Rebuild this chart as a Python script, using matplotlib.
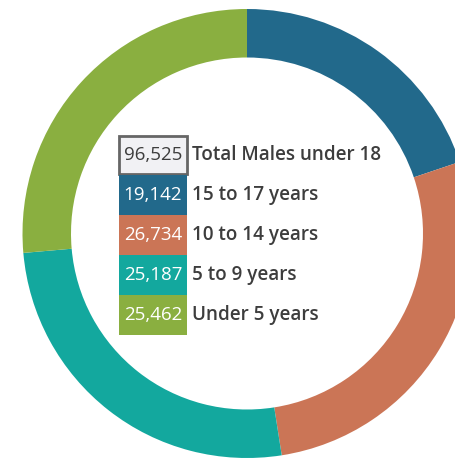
import matplotlib
matplotlib.use('Agg')
import matplotlib.pyplot as plt
from matplotlib.patches import Rectangle

# data
labels = ['15 to 17 years', '10 to 14 years', '5 to 9 years', 'Under 5 years']
values = [19142, 26734, 25187, 25462]
colors = ['#22698b', '#cb7556', '#13a89e', '#8aaf40']
total_label = 'Total Males under 18'
total = sum(values)

W, H = 456, 459
fig = plt.figure(figsize=(W / 100, H / 100), dpi=100)
ax = fig.add_axes([0, 0, 1, 1])

cx, cy, r = 247, H - 233.5, 224.5
ax.pie(values, colors=colors, startangle=90, counterclock=False,
       center=(cx, cy), radius=r, frame=True,
       wedgeprops=dict(width=r - 176, linewidth=0))
ax.set_xlim(0, W)
ax.set_ylim(0, H)
ax.set_aspect('equal')
ax.axis('off')

font = 'Open Sans'
txt_color = '#3d3d3d'
box_x, box_w, row_h = 119, 68, 40
top = 135


def row(i, num, text, fc, ec=None, nc='white'):
    y0 = top + i * row_h
    lw = 2 if ec else 0
    ax.add_patch(Rectangle((box_x, H - y0 - row_h + (1 if ec else 0)), box_w,
                           row_h - (2 if ec else 0), facecolor=fc,
                           edgecolor=ec if ec else 'none', linewidth=lw))
    yc = H - y0 - row_h / 2
    ax.text(box_x + box_w / 2, yc, f'{num:,}', ha='center', va='center',
            fontsize=13.5, color=nc, family=font)
    ax.text(192, yc, text, ha='left', va='center', fontsize=13.6,
            color=txt_color, family=font, fontweight='semibold')


row(0, total, total_label, '#f1f1f4', ec='#666666', nc='#3d3d3d')
for i, (lab, v, c) in enumerate(zip(labels, values, colors)):
    row(i + 1, v, lab, c)

fig.savefig('out.png', dpi=100)
